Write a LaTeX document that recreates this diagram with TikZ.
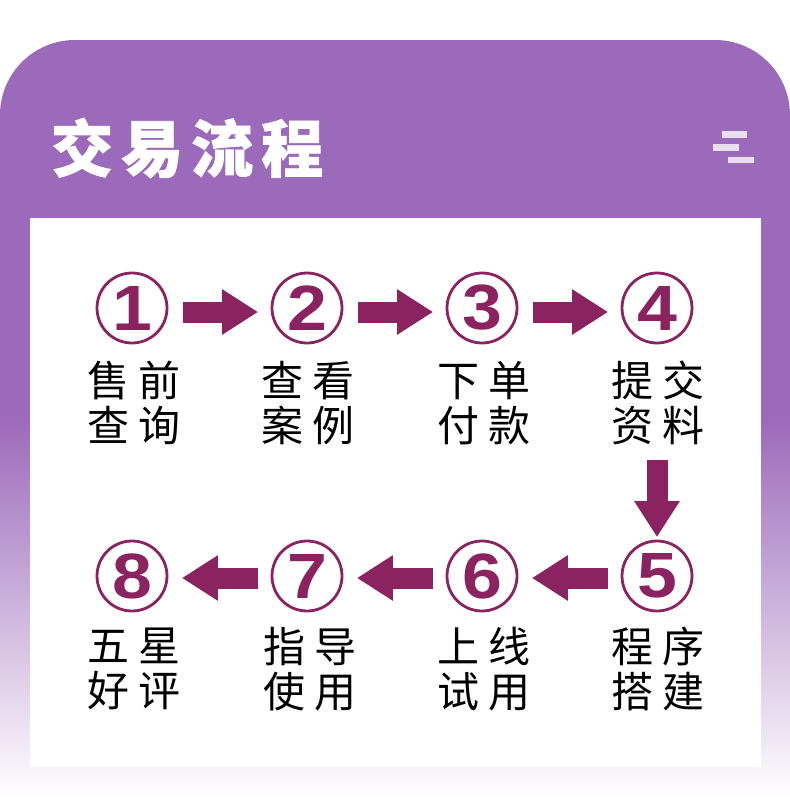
\documentclass[tikz,border=0pt]{standalone}
\usepackage{fontspec}
\usepackage{graphicx}
\usetikzlibrary{arrows.meta}
\newfontfamily\cjk{Noto Sans CJK SC}
\newfontfamily\cjkheavy{Noto Sans CJK SC}[BoldFeatures={FakeBold=1.2}]
\newfontfamily\digitfont{Liberation Sans}
\definecolor{panel}{HTML}{9C6ABA}
\definecolor{flowc}{HTML}{8B2360}
\definecolor{barc}{HTML}{E9DFF0}
\newcommand\gapp{\hspace{9pt}}
\newcommand\tgap{\hspace{8pt}}
\begin{document}
\begin{tikzpicture}[x=1pt,y=-1pt,
  stepnum/.style={circle,draw=flowc,line width=2.8pt,minimum size=70pt,inner sep=0pt,
    font=\digitfont\bfseries\fontsize{64}{64}\selectfont,text=flowc},
  steplabel/.style={align=center,inner sep=0pt,font=\cjk\fontsize{42}{45}\selectfont,text=black},
  blockarrow/.style={draw=flowc,line width=21pt,-{Triangle[width=43pt,length=36pt]}},
]
\useasboundingbox (0,0) rectangle (790,812);
\fill[white] (0,0) rectangle (790,812);
% panel
\begin{scope}
  \clip[rounded corners=75pt] (0,900) -- (0,40) -- (790,40) -- (790,900) -- cycle;
  \fill[panel] (0,30) rectangle (790,421);
  \shade[top color=panel,bottom color=white] (0,420) rectangle (790,800);
\end{scope}
% title
\node[anchor=west,text=white,inner sep=0pt,font=\cjkheavy\bfseries\fontsize{62}{62}\selectfont] (title) at (51,148) {交\tgap 易\tgap 流\tgap 程};
% icon
\fill[barc] (722,131) rectangle (747,138);
\fill[barc] (713,144) rectangle (739,151);
\fill[barc] (728,157) rectangle (754,163);
% white box
\fill[white] (30,218) rectangle (761,767);
% circles
\node[stepnum] (c1) at (132,308) {\scalebox{1.12}[1]{1}};
\node[stepnum] (c2) at (307,308) {\scalebox{1.12}[1]{2}};
\node[stepnum] (c3) at (482,308) {\scalebox{1.12}[1]{3}};
\node[stepnum] (c4) at (657,308) {\scalebox{1.12}[1]{4}};
\node[stepnum] (c5) at (657,576) {\scalebox{1.12}[1]{5}};
\node[stepnum] (c6) at (482,576) {\scalebox{1.12}[1]{6}};
\node[stepnum] (c7) at (307,576) {\scalebox{1.12}[1]{7}};
\node[stepnum] (c8) at (132,576) {\scalebox{1.12}[1]{8}};
% labels
\node[steplabel] (l1) at (134,403) {售\gapp 前\\查\gapp 询};
\node[steplabel] (l2) at (308,403) {查\gapp 看\\案\gapp 例};
\node[steplabel] (l3) at (484,403) {下\gapp 单\\付\gapp 款};
\node[steplabel] (l4) at (658,403) {提\gapp 交\\资\gapp 料};
\node[steplabel] (l5) at (658,669) {程\gapp 序\\搭\gapp 建};
\node[steplabel] (l6) at (484,669) {上\gapp 线\\试\gapp 用};
\node[steplabel] (l7) at (310,669) {指\gapp 导\\使\gapp 用};
\node[steplabel] (l8) at (134,669) {五\gapp 星\\好\gapp 评};
% arrows
\draw[blockarrow,shorten <=14.5pt,shorten >=12.5pt] ([yshift=-4pt]c1.east) -- ([yshift=-4pt]c2.west);
\draw[blockarrow,shorten <=14.5pt,shorten >=12.5pt] ([yshift=-4pt]c2.east) -- ([yshift=-4pt]c3.west);
\draw[blockarrow,shorten <=14.5pt,shorten >=12.5pt] ([yshift=-4pt]c3.east) -- ([yshift=-4pt]c4.west);
\draw[blockarrow,shorten <=115.5pt,shorten >=2.5pt] (c4) -- (c5);
\draw[blockarrow,shorten <=12.5pt,shorten >=13.5pt] ([yshift=-2pt]c5.west) -- ([yshift=-2pt]c6.east);
\draw[blockarrow,shorten <=12.5pt,shorten >=13.5pt] ([yshift=-2pt]c6.west) -- ([yshift=-2pt]c7.east);
\draw[blockarrow,shorten <=12.5pt,shorten >=13.5pt] ([yshift=-2pt]c7.west) -- ([yshift=-2pt]c8.east);
\end{tikzpicture}
\end{document}
